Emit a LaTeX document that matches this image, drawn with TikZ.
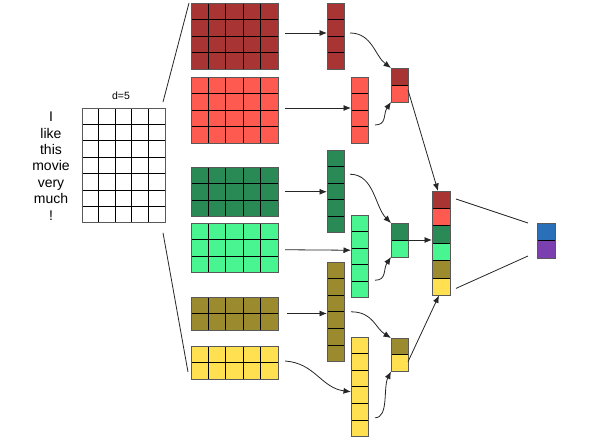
\documentclass[tikz,border=0pt]{standalone}
\usepackage{fontspec}
\setmainfont{Liberation Sans}
\usetikzlibrary{arrows.meta,calc}
\definecolor{cDR}{HTML}{A83434}
\definecolor{cLR}{HTML}{FF5A50}
\definecolor{cDG}{HTML}{2A8A55}
\definecolor{cLG}{HTML}{48F590}
\definecolor{cOL}{HTML}{9B8A2E}
\definecolor{cYE}{HTML}{FFE050}
\definecolor{cBL}{HTML}{2A70B8}
\definecolor{cPU}{HTML}{7B3FB0}
\tikzset{
  blkst/.style={inner sep=0pt, outer sep=0pt, anchor=north west},
  cellline/.style={black, line width=0.95pt},
  border/.style={draw=black!65, line width=0.95pt},
  arr/.style={-{Latex[length=7.5pt,width=6pt]}, line width=0.8pt, black!85},
  link/.style={line width=0.8pt, black!85},
}
% name, x, y, cols, rows, cell w, cell h, colour
\newcommand\cellblock[8]{%
  \node[blkst, fill=#8, minimum width={#4*#6pt}, minimum height={#5*#7pt}] (#1) at (#2,#3) {};
  \ifnum#4>1\relax
    \foreach \i in {2,...,#4}{\draw[cellline] ($(#1.north west)+({(\i-1)*#6},0)$) -- ++(0,{#5*#7});}%
  \fi
  \ifnum#5>1\relax
    \foreach \j in {2,...,#5}{\draw[cellline] ($(#1.north west)+(0,{(\j-1)*#7})$) -- ++({#4*#6},0);}%
  \fi
  \draw[border] (#1.north west) rectangle (#1.south east);
}
% name, x, y, cell w, cell h, n, colours
\newcommand\colstack[7]{%
  \node[blkst, minimum width={#4pt}, minimum height={#6*#5pt}] (#1) at (#2,#3) {};
  \foreach \c [count=\k] in {#7}{\fill[fill=\c] ($(#1.north west)+(0,{(\k-1)*#5})$) rectangle ++(#4,#5);}%
  \foreach \k in {2,...,#6}{\draw[cellline] ($(#1.north west)+(0,{(\k-1)*#5})$) -- ++(#4,0);}%
  \draw[border] (#1.north west) rectangle (#1.south east);
}
\begin{document}
\begin{tikzpicture}[x=1pt,y=-1pt]
\useasboundingbox[fill=white] (0,0) rectangle (591,443);

% sentence and input matrix
\node[align=center, inner sep=0pt, font=\fontsize{14}{16.4}\selectfont] (words) at (51,166)
  {I\\like\\this\\movie\\very\\much\\!};
\node[inner sep=0pt, font=\fontsize{10.5}{12}\selectfont] (dlabel) at (121,96) {d=5};
\cellblock{in}{82}{108}{5}{7}{16.6}{16.4}{white}

% filters
\cellblock{fr1}{191}{3}{5}{4}{17.4}{16.5}{cDR}
\cellblock{fr2}{191}{77}{5}{4}{17.4}{16.5}{cLR}
\cellblock{fr3}{191}{167}{5}{3}{17.4}{16.5}{cDG}
\cellblock{fr4}{191}{223}{5}{3}{17.4}{16.5}{cLG}
\cellblock{fr5}{191}{297}{5}{2}{17.4}{16.5}{cOL}
\cellblock{fr6}{191}{346}{5}{2}{17.4}{16.5}{cYE}

% feature maps
\cellblock{m1}{327}{3}{1}{4}{17}{16.5}{cDR}
\cellblock{m2}{351}{77}{1}{4}{17}{16.5}{cLR}
\cellblock{m3}{327}{150}{1}{5}{17}{16.5}{cDG}
\cellblock{m4}{351}{215}{1}{5}{17}{16.5}{cLG}
\cellblock{m5}{327}{262}{1}{6}{17}{16.6}{cOL}
\cellblock{m6}{351}{337}{1}{6}{17}{16.6}{cYE}

% pooled pairs
\colstack{p1}{391}{68}{17}{17}{2}{cDR,cLR}
\colstack{p2}{391}{223}{17}{17}{2}{cDG,cLG}
\colstack{p3}{391}{338}{17}{16.7}{2}{cOL,cYE}

% concatenated vector and output
\colstack{cat}{432}{191}{18}{17.4}{6}{cDR,cLR,cDG,cLG,cOL,cYE}
\colstack{out}{537}{223}{18}{17.5}{2}{cBL,cPU}

% input to filters
\draw[link] ([xshift=-2pt,yshift=6pt]in.north east) -- ([xshift=-2pt]fr1.north west);
\draw[link] ([xshift=-2pt,yshift=-10pt]in.south east) -- ([xshift=-3pt,yshift=7pt]fr6.south west);

% filters to maps
\draw[arr] ([xshift=7pt,yshift=3pt]fr1.east) -- ([yshift=3pt]m1.west);
\draw[arr] ([xshift=7pt,yshift=2pt]fr2.east) -- ([yshift=2pt]m2.west);
\draw[arr] ([xshift=7pt]fr3.east) -- (m3.west |- fr3.east);
\draw[arr] ([xshift=7pt,yshift=-2pt]fr4.east) -- ([yshift=6pt]m4.west);
\draw[arr] ([xshift=9pt]fr5.east) -- (m5.west |- fr5.east);
\draw[arr] ([xshift=7pt,yshift=1.5pt]fr6.east) .. controls +(30,2) and +(-30,-4) .. ([yshift=-5pt]m6.west);

% maps to pooled
\draw[arr] ([xshift=6pt,yshift=3pt]m1.east) .. controls +(22,0) and +(-16,-12) .. (p1.north west);
\draw[arr] ([xshift=7pt,yshift=-15pt]m2.east) .. controls +(12,0) and +(-8,12) .. (p1.south west);
\draw[arr] ([xshift=6pt,yshift=17pt]m3.east) .. controls +(24,0) and +(-16,-16) .. (p2.north west);
\draw[arr] ([xshift=7pt,yshift=-24pt]m4.east) .. controls +(12,0) and +(-8,12) .. (p2.south west);
\draw[arr] ([xshift=7pt]m5.east) .. controls +(22,0) and +(-16,-10) .. (p3.north west);
\draw[arr] ([xshift=7pt,yshift=-31pt]m6.east) .. controls +(14,0) and +(-8,16) .. (p3.south west);

% pooled to concatenation
\draw[arr] ([yshift=-5pt]p1.east) -- ([xshift=-3pt]cat.north);
\draw[arr] (p2.east) -- (cat.west |- p2.east);
\draw[arr] ([yshift=-7pt]p3.east) -- ([xshift=-2pt]cat.south);

% concatenation to output
\draw[link] ([xshift=6pt,yshift=-8pt]cat.north east) -- ([xshift=-9pt]out.north west);
\draw[link] ([xshift=6pt,yshift=7pt]cat.south east) -- ([xshift=-9pt,yshift=2pt]out.south west);
\end{tikzpicture}
\end{document}
